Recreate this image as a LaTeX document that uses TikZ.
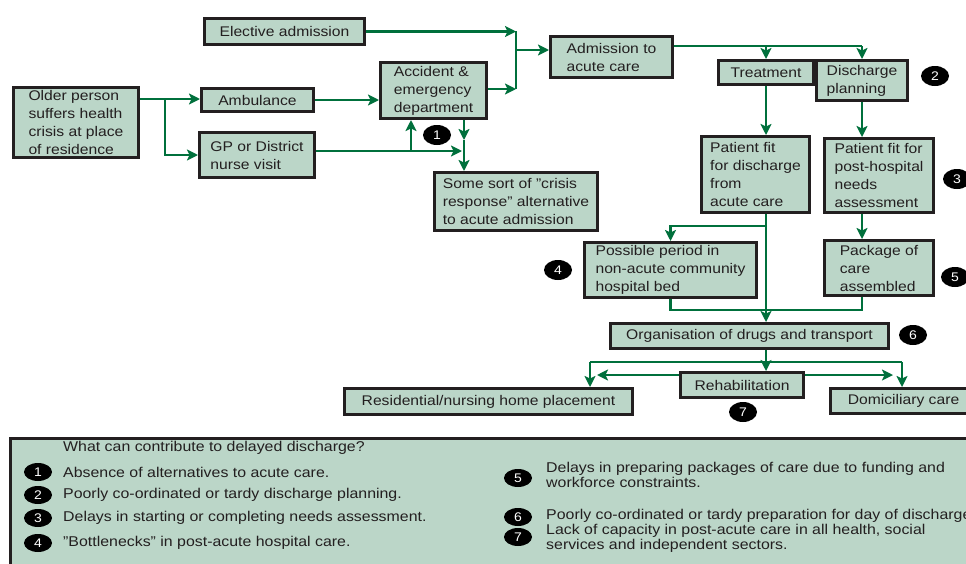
\documentclass[tikz,border=0pt]{standalone}
\usepackage{fontspec}
\setmainfont{Liberation Sans}[FakeStretch=1.12]
\usetikzlibrary{arrows.meta,shapes.geometric}
\definecolor{boxfill}{RGB}{187,214,200}
\definecolor{boxline}{RGB}{35,31,32}
\definecolor{flowgreen}{RGB}{0,112,60}

\begin{document}
\begin{tikzpicture}[x=1pt,y=-1pt,
  box/.style={draw=boxline,fill=boxfill,line width=3pt,inner sep=0pt,align=left,
    text=boxline,font=\fontsize{14}{18}\selectfont},
  num/.style={ellipse,fill=black,text=white,inner sep=0pt,minimum width=28pt,
    minimum height=20pt,font=\fontsize{12.5}{13}\selectfont},
  legtext/.style={anchor=west,inner sep=0pt,align=left,text=boxline,
    font=\fontsize{14.2}{15}\selectfont},
  link/.style={draw=flowgreen,line width=2.6pt},
  flow/.style={link,-{Stealth[length=11pt,width=11pt,inset=2.5pt]}}]

\useasboundingbox (0,0) rectangle (966,563);
\clip (0,0) rectangle (966,563);

\node[box,minimum width=160pt,minimum height=26pt] (eld) at (284.5,31.5) {Elective admission};
\node[box,minimum width=125pt,minimum height=70pt] (older) at (76,122.5) {Older person\\suffers health\\crisis at place\\of residence};
\node[box,minimum width=112pt,minimum height=23pt] (amb) at (257.5,100) {Ambulance};
\node[box,minimum width=115pt,minimum height=45pt] (gp) at (257,155) {GP or District\\nurse visit};
\node[box,minimum width=106pt,minimum height=56pt] (ae) at (433.5,90.5) {Accident \&\\emergency\\department};
\node[box,minimum width=163pt,minimum height=58pt] (crisis) at (516,201.5) {Some sort of \symbol{34}crisis\\response\symbol{34} alternative\\to acute admission};
\node[box,minimum width=122pt,minimum height=41pt] (adm) at (611.5,57) {Admission to\\acute care};
\node[box,minimum width=95pt,minimum height=24pt] (treat) at (766,72.5) {Treatment};
\node[box,minimum width=91pt,minimum height=40pt] (dis) at (862,80.5) {Discharge\\planning};
\node[box,minimum width=108pt,minimum height=76pt] (fit) at (755.5,174.5) {Patient fit\\for discharge\\from\\acute care};
\node[box,minimum width=109pt,minimum height=74pt] (post) at (879,175.5) {Patient fit for\\post-hospital\\needs\\assessment};
\node[box,minimum width=172pt,minimum height=55pt] (poss) at (670.5,270) {Possible period in\\non-acute community\\hospital bed};
\node[box,minimum width=109pt,minimum height=55pt] (pkg) at (879,268) {Package of\\care\\assembled};
\node[box,minimum width=278pt,minimum height=25pt] (org) at (749.5,336) {Organisation of drugs and transport};
\node[box,minimum width=123pt,minimum height=25pt] (rehab) at (742,385) {Rehabilitation};
\node[box,minimum width=288pt,minimum height=26pt] (res) at (488.5,401.5) {Residential/nursing home placement};
\node[box,minimum width=146pt,minimum height=25pt] (dom) at (903.5,401) {Domiciliary care};

\node[num] (n1) at (437,135) {1};
\node[num] (n2) at (935,76) {2};
\node[num] (n3) at (957,179) {3};
\node[num] (n4) at (558,270) {4};
\node[num] (n5) at (955,277) {5};
\node[num] (n6) at (913,335) {6};
\node[num] (n7) at (743,412) {7};

% joints
\coordinate (s1) at (165,99);
\coordinate (jt) at (516,31);
\coordinate (jm) at (516,50);
\coordinate (jb) at (516,89);
\coordinate (ja) at (862,46);
\coordinate (c1) at (767,226);
\coordinate (c2) at (862,310);
\coordinate (c4) at (590,362);
\coordinate (c5) at (902,362);
\coordinate (r1) at (597,375);
\coordinate (r2) at (893,375);
\coordinate (c6) at (462,151);
\coordinate (c7) at (464,140);
\coordinate (c8) at (411,151);

\draw[flow] (older.east |- s1) -- (s1 -| amb.west);
\draw[flow] (s1) |- (gp.west);
\draw[flow] (amb.east) -- (amb.east -| ae.west);
\draw[flow] (gp.east |- c6) -- (c6);
\draw[flow] (c8) -- (c8 |- ae.south);
\draw[flow] (ae.south -| c7) -- (c7);
\draw[flow] (c7) -- (c7 |- crisis.north);

\draw[flow] (eld.east) -- (eld.east -| jt);
\draw[flow] (ae.east |- jb) -- (jb);
\draw[link] (jt) -- (jb);
\draw[flow] (jm) -- (jm -| adm.west);

\draw[link] (adm.east |- ja) -- (ja);
\draw[flow] (ja) -- (dis.north);
\draw[flow] (treat.north |- ja) -- (treat.north);
\draw[flow] (treat.south) -- (treat.south |- fit.north);
\draw[flow] (dis.south) -- (dis.south |- post.north);
\draw[flow] (dis.south |- post.south) -- (dis.south |- pkg.north);

\draw[flow] (c1) -| (poss.north);
\draw[flow] (treat.south |- fit.south) -- (treat.south |- org.north);
\draw[link] (poss.south) |- (c2) -- (c2 |- pkg.south);
\draw[flow] (treat.south |- org.south) -- (treat.south |- rehab.north);
\draw[link] (c4) -- (c5);
\draw[flow] (c4) -- (c4 |- res.north);
\draw[flow] (c5) -- (c5 |- dom.north);
\draw[flow] (rehab.west |- r1) -- (r1);
\draw[flow] (rehab.east |- r2) -- (r2);

% key
\path[fill=boxfill,draw=boxline,line width=3pt] (10,438) rectangle (1000,600);
\node[legtext] (lh) at (63,448) {What can contribute to delayed discharge?};
\node[num,minimum height=18pt] (k1) at (38,472) {1};
\node[legtext] (t1) at (63,472) {Absence of alternatives to acute care.};
\node[num,minimum height=18pt] (k2) at (38,495) {2};
\node[legtext] (t2) at (63,495) {Poorly co-ordinated or tardy discharge planning.};
\node[num,minimum height=18pt] (k3) at (38,518) {3};
\node[legtext] (t3) at (63,518) {Delays in starting or completing needs assessment.};
\node[num,minimum height=18pt] (k4) at (38,543) {4};
\node[legtext] (t4) at (63,543) {\symbol{34}Bottlenecks\symbol{34} in post-acute hospital care.};
\node[num,minimum height=18pt] (k5) at (518,478) {5};
\node[legtext] (t5) at (546,474.5) {Delays in preparing packages of care due to funding and\\workforce constraints.};
\node[num,minimum height=18pt] (k6) at (518,517) {6};
\node[legtext] (t6) at (546,516) {Poorly co-ordinated or tardy preparation for day of discharge};
\node[num,minimum height=18pt] (k7) at (518,537) {7};
\node[legtext] (t7) at (546,538) {Lack of capacity in post-acute care in all health, social\\services and independent sectors.};

\end{tikzpicture}
\end{document}
